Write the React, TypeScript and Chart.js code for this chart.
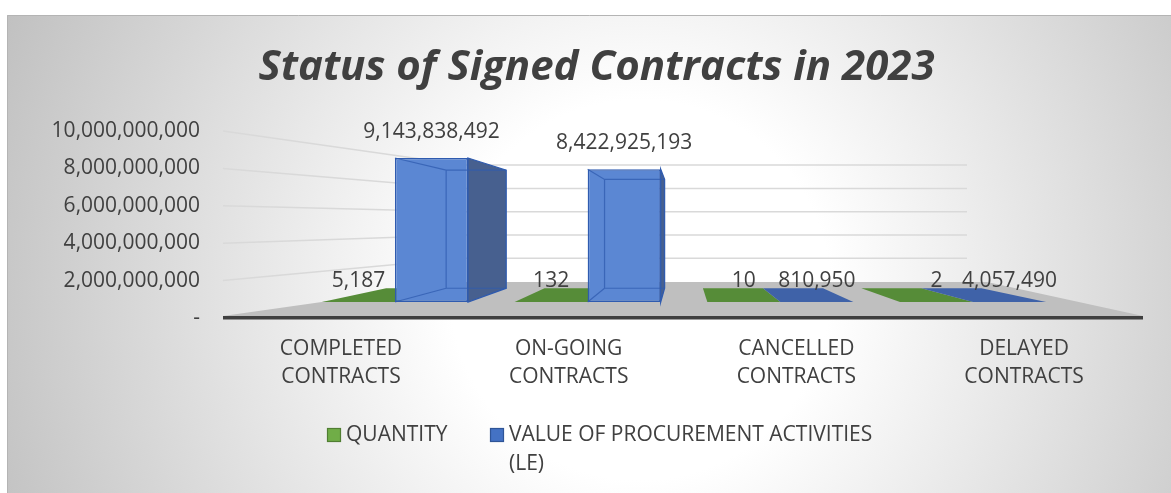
import { useEffect, useRef } from 'react';
import { Chart, registerables } from 'chart.js';

Chart.register(...registerables);

// ---------- data ----------
const CATEGORIES: string[] = ['COMPLETED CONTRACTS', 'ON-GOING CONTRACTS', 'CANCELLED CONTRACTS', 'DELAYED CONTRACTS'];
const CATEGORY_LINES: string[][] = [
  ['COMPLETED', 'CONTRACTS'],
  ['ON-GOING', 'CONTRACTS'],
  ['CANCELLED', 'CONTRACTS'],
  ['DELAYED', 'CONTRACTS'],
];
const QUANTITY: number[] = [5187, 132, 10, 2];
const VALUE_LE: number[] = [9143838492, 8422925193, 810950, 4057490];
const Y_TICKS: number[] = [0, 2000000000, 4000000000, 6000000000, 8000000000, 10000000000];
const SERIES_NAMES: string[] = ['QUANTITY', 'VALUE OF PROCUREMENT ACTIVITIES (LE)'];
const TITLE = 'Status of Signed Contracts in 2023';

// ---------- style ----------
const FONT = '"Open Sans", "DejaVu Sans", sans-serif';
const TEXT = '#404040';
const GREEN_FLAT = '#568C38';
const BLUE_FRONT = '#5B87D3';
const BLUE_SIDE = '#47608F';
const BLUE_EDGE = '#2F5BAF';
const BLUE_FLAT = '#3F62A8';
const LEGEND_FILL = ['#70AD47', '#4472C4'];
const LEGEND_STROKE = ['#507E32', '#2F5597'];

// perspective helpers (vanishing point of the 3-D boxes)
const VPX = 682.6;
const VPY = 225.5;
const bx = (x: number) => VPX + (x - VPX) * 0.822;
const by = (y: number) => VPY + (y - VPY) * 0.82;

const threeD = {
  id: 'threeD',
  beforeDraw(chart: any) {
    const { ctx, width, height } = chart;
    ctx.save();
    ctx.fillStyle = '#ffffff';
    ctx.fillRect(0, 0, width, height);
    const g = ctx.createRadialGradient(640, 290, 0, 640, 290, 760);
    g.addColorStop(0, '#ffffff');
    g.addColorStop(0.25, '#ffffff');
    g.addColorStop(1, '#b8b8b8');
    ctx.fillStyle = g;
    ctx.fillRect(7, 15, width - 7, height - 15);
    ctx.strokeStyle = '#b4b4b4';
    ctx.lineWidth = 1;
    ctx.beginPath();
    ctx.moveTo(7.5, height);
    ctx.lineTo(7.5, 15.5);
    ctx.lineTo(width, 15.5);
    ctx.stroke();
    ctx.restore();
  },
  beforeDatasetsDraw(chart: any) {
    const { ctx, chartArea: ca } = chart;
    const ys = chart.scales.y;
    const wallBottom = 281.6;
    const wallK = 0.623;
    const leftFront = ca.left - 75.6;
    const leftBack = 463;
    const wallRight = 967;
    ctx.save();
    // perspective gridlines
    ctx.strokeStyle = '#d9d9d9';
    ctx.lineWidth = 1.5;
    ys.ticks.forEach((t: any) => {
      if (t.value === 0) return;
      const fy = ys.getPixelForValue(t.value);
      const wy = wallBottom - (ca.bottom - fy) * wallK;
      ctx.beginPath();
      ctx.moveTo(leftFront, fy);
      ctx.lineTo(leftBack, wy);
      ctx.lineTo(wallRight, wy);
      ctx.stroke();
    });
    // floor
    ctx.fillStyle = '#bfbfbf';
    ctx.beginPath();
    ctx.moveTo(leftFront, ca.bottom - 2);
    ctx.lineTo(leftBack, 282);
    ctx.lineTo(987, 282);
    ctx.lineTo(ca.right + 73.6, ca.bottom - 2);
    ctx.closePath();
    ctx.fill();
    ctx.fillStyle = '#3f3f3f';
    ctx.fillRect(leftFront, ca.bottom - 2, ca.right + 73.6 - leftFront, 3.5);
    // flat (near-zero) bars drawn on the floor
    chart.data.datasets.forEach((ds: any, di: number) => {
      const meta = chart.getDatasetMeta(di);
      meta.data.forEach((el: any) => {
        const p = el.getProps(['x', 'y', 'base', 'width'], true);
        if (Math.abs(p.base - p.y) > 3) return;
        const x1 = p.x - p.width / 2;
        const x2 = p.x + p.width / 2;
        const b = p.base;
        ctx.fillStyle = di === 0 ? GREEN_FLAT : BLUE_FLAT;
        ctx.beginPath();
        ctx.moveTo(x1, b);
        ctx.lineTo(x2, b);
        ctx.lineTo(bx(x2), by(b));
        ctx.lineTo(bx(x1), by(b));
        ctx.closePath();
        ctx.fill();
      });
    });
    ctx.restore();
  },
  afterDatasetsDraw(chart: any) {
    const { ctx } = chart;
    ctx.save();
    chart.data.datasets.forEach((ds: any, di: number) => {
      const meta = chart.getDatasetMeta(di);
      meta.data.forEach((el: any, i: number) => {
        const p = el.getProps(['x', 'y', 'base', 'width'], true);
        const tall = Math.abs(p.base - p.y) > 3;
        const x1 = p.x - p.width / 2;
        const x2 = p.x + p.width / 2;
        const top = p.y;
        const bot = p.base;
        if (tall) {
          // side face
          ctx.fillStyle = BLUE_SIDE;
          ctx.strokeStyle = BLUE_EDGE;
          ctx.lineWidth = 1.3;
          ctx.beginPath();
          ctx.moveTo(x2, top);
          ctx.lineTo(bx(x2), by(top));
          ctx.lineTo(bx(x2), by(bot));
          ctx.lineTo(x2, bot);
          ctx.closePath();
          ctx.fill();
          ctx.stroke();
          // hidden edges seen through the box
          ctx.strokeStyle = 'rgba(47,91,175,0.75)';
          ctx.lineWidth = 1.2;
          ctx.beginPath();
          ctx.moveTo(x1, top);
          ctx.lineTo(bx(x1), by(top));
          ctx.lineTo(bx(x2), by(top));
          ctx.moveTo(bx(x1), by(top));
          ctx.lineTo(bx(x1), by(bot));
          ctx.lineTo(bx(x2), by(bot));
          ctx.moveTo(x1, bot);
          ctx.lineTo(bx(x1), by(bot));
          ctx.stroke();
        }
        const v = ds.data[i] as number;
        ctx.fillStyle = TEXT;
        ctx.font = `21px ${FONT}`;
        ctx.textAlign = 'center';
        ctx.textBaseline = 'middle';
        ctx.fillText(v.toLocaleString('en-US'), p.x, top - (tall ? 26 : 21));
      });
    });
    ctx.restore();
  },
  afterDraw(chart: any) {
    const { ctx } = chart;
    ctx.save();
    ctx.font = `21px ${FONT}`;
    ctx.textAlign = 'left';
    ctx.textBaseline = 'middle';
    const starts = [327, 490];
    const rowY = 435;
    const lineH = 29;
    chart.data.datasets.forEach((ds: any, di: number) => {
      const x0 = starts[di];
      ctx.fillStyle = LEGEND_FILL[di];
      ctx.strokeStyle = LEGEND_STROKE[di];
      ctx.lineWidth = 1.2;
      ctx.fillRect(x0, rowY - 7, 14, 14);
      ctx.strokeRect(x0 + 0.5, rowY - 6.5, 13, 13);
      // wrap long labels
      const words = String(ds.label).split(' ');
      const lines: string[] = [];
      let cur = '';
      words.forEach((w) => {
        const test = cur ? cur + ' ' + w : w;
        if (cur && ctx.measureText(test).width > 390) {
          lines.push(cur);
          cur = w;
        } else cur = test;
      });
      if (cur) lines.push(cur);
      ctx.fillStyle = TEXT;
      lines.forEach((ln, li) => ctx.fillText(ln, x0 + 19, rowY + li * lineH));
    });
    ctx.restore();
  },
};

export default function App() {
  const ref = useRef<HTMLCanvasElement | null>(null);
  useEffect(() => {
    if (!ref.current) return;
    const chart = new Chart(ref.current, {
      type: 'bar',
      data: {
        labels: CATEGORIES,
        datasets: [
          {
            label: SERIES_NAMES[0],
            data: QUANTITY,
            backgroundColor: GREEN_FLAT,
            borderWidth: 0,
            xAxisID: 'x',
            yAxisID: 'y2',
            barPercentage: 1,
            categoryPercentage: 0.758,
          },
          {
            label: SERIES_NAMES[1],
            data: VALUE_LE,
            backgroundColor: BLUE_FRONT,
            borderColor: BLUE_EDGE,
            borderWidth: (c: any) => (c.raw > 1e8 ? 1.5 : 0),
            borderSkipped: false,
            xAxisID: 'x',
            yAxisID: 'y2',
            barPercentage: 1,
            categoryPercentage: 0.758,
          },
        ],
      },
      options: {
        responsive: false,
        animation: false,
        events: [],
        layout: { padding: { top: 15, left: 22, right: 0, bottom: 0 } },
        plugins: {
          legend: { display: false },
          tooltip: { enabled: false },
          title: {
            display: true,
            text: TITLE,
            color: TEXT,
            font: { family: FONT, size: 42, weight: 'bold', style: 'italic', lineHeight: 1.2 },
            padding: { top: 27.8, bottom: 37.8 },
          },
        },
        scales: {
          x: { type: 'category', display: false, offset: true, grid: { offset: true } },
          x2: {
            type: 'linear',
            position: 'bottom',
            offset: false,
            min: -0.186,
            max: 3.199,
            grid: { display: false, drawTicks: false, offset: false },
            border: { display: false },
            afterBuildTicks: (s: any) => {
              s.ticks = CATEGORY_LINES.map((_, i) => ({ value: i }));
            },
            afterFit: (s: any) => {
              s.height = 175;
            },
            ticks: {
              autoSkip: false,
              maxRotation: 0,
              padding: 17,
              color: TEXT,
              font: { family: FONT, size: 21, lineHeight: 1.333 },
              callback: (v: any) => CATEGORY_LINES[Math.round(v)] ?? '',
            },
          },
          y: {
            type: 'linear',
            position: 'left',
            min: 0,
            max: 10000000000,
            grid: { display: false, drawTicks: false },
            border: { display: false },
            afterBuildTicks: (s: any) => {
              s.ticks = Y_TICKS.map((v) => ({ value: v }));
            },
            afterFit: (s: any) => {
              s.width = 276.6;
            },
            ticks: {
              padding: 98.6,
              color: TEXT,
              font: { family: FONT, size: 21 },
              callback: (v: any) => (v === 0 ? '-' : Number(v).toLocaleString('en-US')),
            },
          },
          y2: {
            type: 'linear',
            display: false,
            min: -1016000000,
            max: 10858000000,
          },
          yRight: {
            type: 'linear',
            position: 'right',
            min: 0,
            max: 1,
            grid: { display: false, drawTicks: false },
            border: { display: false },
            ticks: { display: false },
            afterFit: (s: any) => {
              s.width = 101.6;
            },
          },
        },
      },
      plugins: [threeD],
    } as any);
    return () => chart.destroy();
  }, []);
  return (
    <div style={{ position: 'fixed', left: 0, top: 0, width: 1171, height: 493 }}>
      <canvas ref={ref} width={1171} height={493} style={{ width: 1171, height: 493, display: 'block' }} />
    </div>
  );
}
